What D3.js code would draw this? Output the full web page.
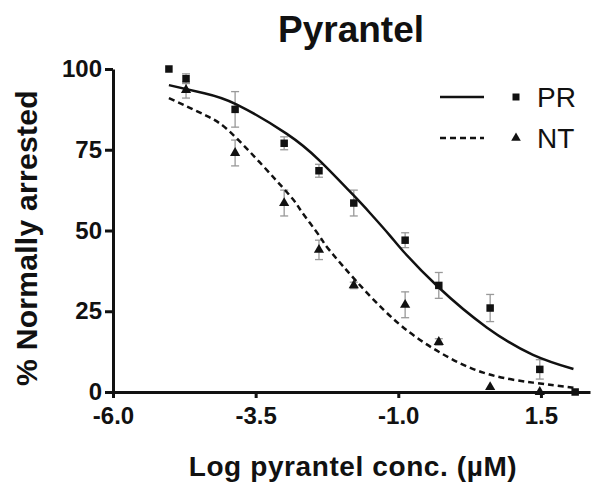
<!DOCTYPE html>
<html lang="en">
<head>
    <meta charset="UTF-8">
    <title>Pyrantel</title>
    <script src="https://cdn.jsdelivr.net/npm/d3@7"></script>
    <style>
        body {
            margin: 0;
            background-color: #fff;
        }
        text {
            font-family: "Liberation Sans", Arial, sans-serif;
            fill: #111;
        }
        .tick text {
            font-size: 24px;
            font-weight: bold;
        }
        .domain, .tick line {
            stroke: #111;
            stroke-width: 3;
        }
    </style>
</head>
<body>
    <script>
        // doses (log uM)
        const prDose = [-5.02, -4.72, -3.86, -3.0, -2.39, -1.78, -0.88, -0.29, 0.61, 1.48, 2.1];
        const prMean = [100, 97, 87.5, 77, 68.5, 58.5, 47, 33, 26, 7, 0];
        const prErr = [0, 1.5, 5.5, 2, 2, 4, 2.3, 4, 4.2, 3, 0];

        const ntDose = [-4.72, -3.86, -3.0, -2.39, -1.78, -0.88, -0.29, 0.61, 1.48];
        const ntMean = [93.5, 74, 58.5, 44, 33, 27, 15.5, 1.5, 0];
        const ntErr = [2.5, 4, 4, 3, 1, 4, 1, 0, 0];

        // fitted curves
        const prCurveX = [-5.02, -4.4, -3.83, -2.96, -2.37, -1.79, -1.5, -1.15, -0.91, -0.3, 0.55, 1.36, 2.07];
        const prCurveY = [95, 92.5, 89, 80, 71.5, 61, 55.5, 48.5, 43.5, 32.5, 20, 11.5, 7.1];
        const ntCurveX = [-5.02, -4.36, -3.83, -2.96, -2.72, -2.37, -2.14, -1.26, -0.39, 0.49, 1.36, 2.07];
        const ntCurveY = [91, 85.5, 78.5, 62, 56.5, 48, 42.5, 25.5, 13.5, 6, 2.9, 1.3];

        const xTicks = [-6.0, -3.5, -1.0, 1.5];
        const yTicks = [0, 25, 50, 75, 100];

        const w = 592;
        const h = 484;

        const svg = d3.select('body')
                    .append('svg')
                    .attr('width', w)
                    .attr('height', h);

        const xScale = d3.scaleLinear([-6, 2.36], [113, 590]);
        const yScale = d3.scaleLinear([0, 100], [392, 69]);

        // error bars first, marks go on top
        const drawErrors = (dose, mean, err) => {
            const g = svg.append('g')
                .attr('stroke', '#999')
                .attr('stroke-width', 1.3);
            dose.forEach((d, i) => {
                if (!err[i]) return;
                const x = xScale(d);
                const y0 = yScale(mean[i] - err[i]);
                const y1 = yScale(mean[i] + err[i]);
                g.append('line').attr('x1', x).attr('x2', x).attr('y1', y0).attr('y2', y1);
                g.append('line').attr('x1', x - 4).attr('x2', x + 4).attr('y1', y0).attr('y2', y0);
                g.append('line').attr('x1', x - 4).attr('x2', x + 4).attr('y1', y1).attr('y2', y1);
            });
        };
        drawErrors(prDose, prMean, prErr);
        drawErrors(ntDose, ntMean, ntErr);

        const line = d3.line()
            .x(d => xScale(d[0]))
            .y(d => yScale(d[1]))
            .curve(d3.curveNatural);

        svg.append('path')
            .datum(prCurveX.map((x, i) => [x, prCurveY[i]]))
            .attr('d', line)
            .attr('fill', 'none')
            .attr('stroke', '#111')
            .attr('stroke-width', 2.5);

        svg.append('path')
            .datum(ntCurveX.map((x, i) => [x, ntCurveY[i]]))
            .attr('d', line)
            .attr('fill', 'none')
            .attr('stroke', '#111')
            .attr('stroke-width', 2.5)
            .attr('stroke-dasharray', '6,4');

        // axes
        svg.append('g')
            .attr('transform', `translate(0, ${yScale(0)})`)
            .call(d3.axisBottom(xScale).tickValues(xTicks).tickFormat(d => d.toFixed(1)).tickSize(6).tickPadding(9).tickSizeOuter(0));

        svg.append('g')
            .attr('transform', `translate(${xScale(-6)}, 0)`)
            .call(d3.axisLeft(yScale).tickValues(yTicks).tickSize(8).tickPadding(3).tickSizeOuter(0));

        // points
        svg.selectAll('.pr')
            .data(prDose)
            .enter()
            .append('path')
            .attr('class', 'pr')
            .attr('d', d3.symbol(d3.symbolSquare, 56))
            .attr('transform', (d, i) => `translate(${xScale(d)}, ${yScale(prMean[i])})`)
            .attr('fill', '#111');

        svg.selectAll('.nt')
            .data(ntDose)
            .enter()
            .append('path')
            .attr('class', 'nt')
            .attr('d', d3.symbol(d3.symbolTriangle, 45))
            .attr('transform', (d, i) => `translate(${xScale(d)}, ${yScale(ntMean[i])})`)
            .attr('fill', '#111');

        // titles
        svg.append('text')
            .attr('x', 351)
            .attr('y', 42)
            .attr('text-anchor', 'middle')
            .style('font-size', '37px')
            .style('font-weight', 'bold')
            .text('Pyrantel');

        svg.append('text')
            .attr('x', 353)
            .attr('y', 476)
            .attr('text-anchor', 'middle')
            .style('font-size', '28px')
            .style('font-weight', 'bold')
            .style('letter-spacing', '0.6px')
            .text('Log pyrantel conc. (\u00b5M)');

        svg.append('text')
            .attr('transform', 'translate(37, 238) rotate(-90)')
            .attr('text-anchor', 'middle')
            .style('font-size', '30px')
            .style('font-weight', 'bold')
            .style('letter-spacing', '0.3px')
            .text('% Normally arrested');

        // legend
        const legendData = [
            { label: 'PR', dash: null, symbol: d3.symbolSquare, size: 49 },
            { label: 'NT', dash: '6,4', symbol: d3.symbolTriangle, size: 40 }
        ];
        const legend = svg.append('g');
        legendData.forEach((d, i) => {
            const y = 97 + i * 41;
            legend.append('line')
                .attr('x1', 440).attr('x2', 484)
                .attr('y1', y).attr('y2', y)
                .attr('stroke', '#111')
                .attr('stroke-width', 2.5)
                .attr('stroke-dasharray', d.dash);
            legend.append('path')
                .attr('d', d3.symbol(d.symbol, d.size))
                .attr('transform', `translate(516, ${y})`)
                .attr('fill', '#111');
            legend.append('text')
                .attr('x', 537)
                .attr('y', y + 10)
                .style('font-size', '28px')
                .text(d.label);
        });
    </script>
</body>
</html>
